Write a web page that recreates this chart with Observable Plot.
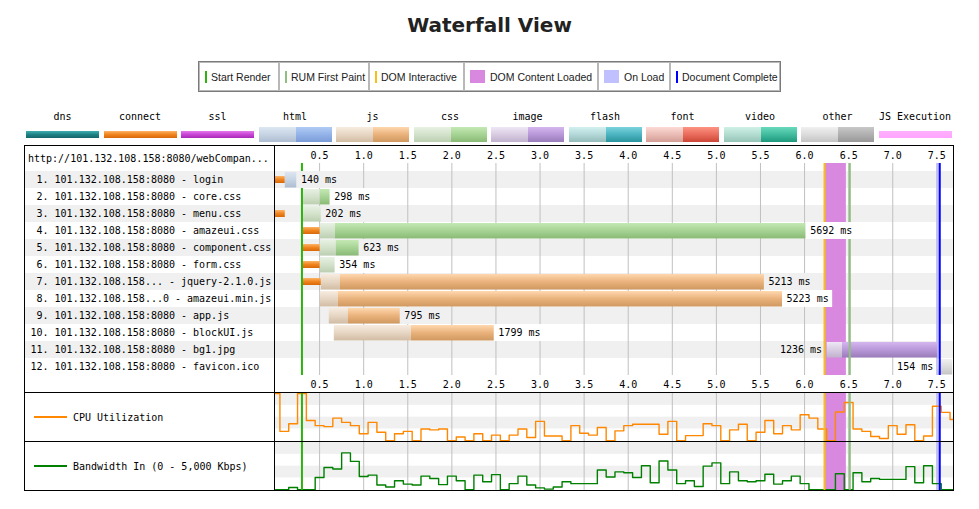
<!DOCTYPE html>
<html>
<head>
<meta charset="utf-8">
<script src="https://cdn.jsdelivr.net/npm/d3@7"></script>
<script src="https://cdn.jsdelivr.net/npm/@observablehq/plot@0.6"></script>
<style>
html,body{margin:0;padding:0;background:#fff;}
body{width:979px;height:509px;position:relative;overflow:hidden;}
#title{position:absolute;left:0;top:13px;width:979px;text-align:center;font:bold 20px "DejaVu Sans",sans-serif;color:#222;line-height:24px;}
#legend1{position:absolute;left:198px;top:61px;height:31px;display:flex;border:1px solid #7a7a7a;box-sizing:border-box;background:#fff;}
.l1cell{flex:0 0 auto;box-sizing:border-box;height:100%;border:1px solid #b8b8b8;display:flex;align-items:center;padding-left:5px;font:10.5px "Liberation Sans",Arial,sans-serif;color:#222;white-space:nowrap;overflow:hidden;}
.mk-line{flex:0 0 auto;display:inline-block;width:2px;height:12px;margin-right:4px;}
.mk-box{flex:0 0 auto;display:inline-block;width:15px;height:13px;margin-right:5px;}
.l2label{position:absolute;top:111px;width:73px;text-align:center;font:10px "DejaVu Sans Mono",monospace;line-height:12px;color:#000;}
.l2bar{position:absolute;box-sizing:border-box;}
#table{position:absolute;left:24px;top:145px;width:928px;border:1px solid #000;background:#fff;}
#wf{height:246px;}
#cpuWrap,#bwWrap{position:relative;height:48px;border-top:1px solid #000;}
#divider{position:absolute;left:249px;top:0;bottom:0;width:1px;background:#000;}
.sideLabel{position:absolute;left:9px;height:12px;display:flex;align-items:center;font:10px "DejaVu Sans Mono",monospace;color:#000;white-space:nowrap;}
.sideLabel i{flex:0 0 auto;display:inline-block;width:33px;height:1.5px;margin-right:6px;}
svg{display:block;}
</style>
</head>
<body>
<div id="title">Waterfall View</div>
<div id="legend1"></div>
<div id="legend2"></div>
<div id="table">
  <div id="wf"></div>
  <div id="cpuWrap"><div class="sideLabel" style="top:18px"><i style="background:#ff8800"></i>CPU Utilization</div></div>
  <div id="bwWrap"><div class="sideLabel" style="top:18px"><i style="background:#008000"></i>Bandwidth In (0 - 5,000 Kbps)</div></div>
  <div id="divider"></div>
</div>
<script>
// ---------------- data ----------------
const pageUrl = "http://101.132.108.158:8080/webCompan...";
const requestUrls = [
  "101.132.108.158:8080 - login",
  "101.132.108.158:8080 - core.css",
  "101.132.108.158:8080 - menu.css",
  "101.132.108.158:8080 - amazeui.css",
  "101.132.108.158:8080 - component.css",
  "101.132.108.158:8080 - form.css",
  "101.132.108.158... - jquery-2.1.0.js",
  "101.132.108.158...0 - amazeui.min.js",
  "101.132.108.158:8080 - app.js",
  "101.132.108.158:8080 - blockUI.js",
  "101.132.108.158:8080 - bg1.jpg",
  "101.132.108.158:8080 - favicon.ico"
];
const requestTypes = ["html","css","css","css","css","css","js","js","js","js","image","other"];
const connectStart = [0, null, 0, 0.315, 0.304, 0.315, 0.304, null, null, null, null, null];
const connectEnd   = [0.111, null, 0.111, 0.508, 0.508, 0.508, 0.52, null, null, null, null, null];
const requestStart = [0.111, 0.304, 0.304, 0.508, 0.508, 0.508, 0.52, 0.508, 0.61, 0.667, 6.256, 7.516];
const firstByte    = [0.244, 0.508, 0.52, 0.678, 0.689, 0.678, 0.735, 0.712, 0.826, 1.54, 6.43, 7.68];
const requestEnd   = [0.244, 0.621, 0.52, 6.018, 0.95, 0.678, 5.545, 5.75, 1.416, 2.482, 7.511, 7.68];
const durationsMs  = [140, 298, 202, 5692, 623, 354, 5213, 5223, 795, 1799, 1236, 154];

const timeTicks = [0.5,1,1.5,2,2.5,3,3.5,4,4.5,5,5.5,6,6.5,7,7.5];
const timeMax = 7.689;

const startRender = 0.30;
const rumFirstPaint = 6.513;
const domInteractive = 6.226;
const domContentLoaded = [6.237, 6.474];
const onLoad = [7.500, 7.528];
const documentComplete = 7.533;

const sampleStep = 0.1;
const cpuPercent = [100,20,36,100,43,32,30,48,39,32, 15,39,18,0,15,20,0,25,23,25,
  0,8,0,15,0,12,0,12,25,7, 41,10,10,0,32,16,12,28,0,21,
  32,35,35,35,14,41,0,11,11,36, 32,0,23,35,0,18,43,15,32,23,
  55,48,25,0,61,81,25,20,9,5, 32,14,34,0,10,73,60,45];
const bandwidthPercent = [0,0,5,0,0,26,47,44,78,60, 28,31,10,6,19,12,10,29,24,11,
  29,19,0,31,17,32,0,13,29,10, 4,1.5,6,17,13,13,13,42,27,38,
  36,26,51,15,61,42,13,19,7,50, 57,13,38,19,17,19,33,12,19,29,
  13,0,0,0,34,0,36,17,24,22, 22,22,49,15,51,13,0,0];

const legendTypes = ["dns","connect","ssl","html","js","css","image","flash","font","video","other","JS Execution"];
const markerLegend = ["Start Render","RUM First Paint","DOM Interactive","DOM Content Loaded","On Load","Document Complete"];

// ---------------- styles ----------------
const C = {
  startRender:"#2ab40c", rum:"#8fc080", domInteractive:"#f8c014", dcl:"#d888df", onLoad:"#c0c0ff", docComplete:"#0000ff",
  grid:"#c0c0c0", rowGray:"#f0f0f0", cpu:"#ff8800", bw:"#008000"
};
const grad = {
  dns:["#40aeb0","#1f8287","#15676b"],
  connect:["#fcb468","#f0841e","#d86808"],
  ssl:["#e478ec","#c846d4","#a82ab6"],
  "html-light":["#dde7f2","#c6d3e3","#aebdd1"], "html-dark":["#b0cbf4","#93b3e8","#7a9bd6"],
  "js-light":["#f7ece0","#e6d6c3","#d2bca4"], "js-dark":["#fed8ae","#eab27c","#cf9960"],
  "css-light":["#e8f1e3","#d3e2cb","#bccfb1"], "css-dark":["#c4e9b4","#a6d394","#8aba76"],
  "image-light":["#eee7f5","#d8cce2","#c1b1cd"], "image-dark":["#d4b6ef","#b898d8","#9a7cba"],
  "flash-light":["#d2f0f0","#b4d8d8","#94baba"], "flash-dark":["#7ad4de","#4cb4c0","#2a949e"],
  "font-light":["#fcdad5","#e9bcb5","#d39d95"], "font-dark":["#fd9383","#ea6c5c","#cc4636"],
  "video-light":["#cff0e6","#b2dccf","#95c4b6"], "video-dark":["#68d9bc","#42bc9e","#1e987c"],
  "other-light":["#f0f0f0","#dcdcdc","#c4c4c4"], "other-dark":["#c8c8c8","#b0b0b0","#989898"],
  jsexec:["#ffb0ff","#ffaaff","#ffa4ff"]
};
const cssGrad = k => `linear-gradient(to bottom, ${grad[k].join(",")})`;

// ---------------- legends ----------------
const markerColors = [C.startRender, C.rum, C.domInteractive, C.dcl, C.onLoad, C.docComplete];
const markerKinds = ["line","line","line","box","box","line"];
const cellWidths = [80, 90, 95, 134, 72, 110];
const l1 = document.getElementById("legend1");
markerLegend.forEach((label, i) => {
  const c = document.createElement("div"); c.className = "l1cell"; c.style.width = cellWidths[i] + "px";
  const m = document.createElement("span"); m.className = markerKinds[i] === "line" ? "mk-line" : "mk-box"; m.style.background = markerColors[i];
  c.appendChild(m); c.appendChild(document.createTextNode(label)); l1.appendChild(c);
});
const l2 = document.getElementById("legend2");
legendTypes.forEach((name, i) => {
  const left = 26 + i * 77.5;
  const lab = document.createElement("div"); lab.className = "l2label"; lab.style.left = left + "px"; lab.textContent = name; l2.appendChild(lab);
  const split = !["dns","connect","ssl","JS Execution"].includes(name);
  if (split) {
    const a = document.createElement("div"); a.className = "l2bar";
    Object.assign(a.style, {left: left + "px", top: "127px", width: "37px", height: "15px", background: cssGrad(name + "-light")});
    const b = document.createElement("div"); b.className = "l2bar";
    Object.assign(b.style, {left: (left + 37) + "px", top: "127px", width: "36px", height: "15px", background: cssGrad(name + "-dark")});
    l2.appendChild(a); l2.appendChild(b);
  } else {
    const a = document.createElement("div"); a.className = "l2bar";
    Object.assign(a.style, {left: left + "px", top: "131px", width: "73px", height: "7px", background: cssGrad(name === "JS Execution" ? "jsexec" : name)});
    l2.appendChild(a);
  }
});

// ---------------- helpers ----------------
function addGradients(svg) {
  const ns = "http://www.w3.org/2000/svg";
  const defs = document.createElementNS(ns, "defs");
  for (const [id, stops] of Object.entries(grad)) {
    const g = document.createElementNS(ns, "linearGradient");
    g.setAttribute("id", "g-" + id);
    g.setAttribute("x1", "0"); g.setAttribute("y1", "0"); g.setAttribute("x2", "0"); g.setAttribute("y2", "1");
    stops.forEach((c, i) => {
      const s = document.createElementNS(ns, "stop");
      s.setAttribute("offset", String(i / (stops.length - 1)));
      s.setAttribute("stop-color", c);
      g.appendChild(s);
    });
    defs.appendChild(g);
  }
  svg.insertBefore(defs, svg.firstChild);
}
function markerBands(o) {
  return [
    Plot.barX([domContentLoaded], {x1: d => d[0], x2: d => d[1], fill: C.dcl, ...o}),
    Plot.barX([onLoad], {x1: d => d[0], x2: d => d[1], fill: C.onLoad, ...o})
  ];
}
function markerLines(o) {
  return [
    Plot.ruleX([startRender], {stroke: C.startRender, strokeWidth: 2, ...o}),
    Plot.ruleX([domInteractive], {stroke: C.domInteractive, strokeWidth: 2, ...o}),
    Plot.ruleX([rumFirstPaint], {stroke: C.rum, strokeWidth: 2, ...o}),
    Plot.ruleX([documentComplete], {stroke: C.docComplete, strokeWidth: 2, ...o})
  ];
}

// ---------------- waterfall ----------------
const W = 928;
const xDomain = [0, timeMax];
const xRange = [250, W];
const pxPerSec = (xRange[1] - xRange[0]) / (xDomain[1] - xDomain[0]);
const charW = 6.02;

const rows = requestUrls.map((url, i) => ({
  i, type: requestTypes[i],
  label: String(i + 1).padStart(2, "\u00a0") + ". " + url,
  cs: connectStart[i], ce: connectEnd[i],
  start: requestStart[i], ttfb: firstByte[i], end: requestEnd[i],
  text: durationsMs[i] + " ms"
}));
rows.forEach(d => {
  d.labelLeft = d.end + (d.text.length * charW + 8) / pxPerSec > timeMax;
  d.bgEnd = d.end + (d.text.length * charW + 8) / pxPerSec;
});
const types = [...new Set(requestTypes)];
const inset = {insetTop: 17, insetBottom: 17};
const barInset = {insetTop: 1, insetBottom: 0.5};

const wf = Plot.plot({
  width: W, height: 246,
  marginLeft: 0, marginRight: 0, marginTop: 0, marginBottom: 0,
  x: {domain: xDomain, range: xRange, axis: null},
  y: {type: "band", domain: rows.map(d => d.label), range: [24.7, 228.7], padding: 0, axis: null},
  style: {fontFamily: "'DejaVu Sans Mono', monospace", fontSize: "10px", color: "#000", background: "white"},
  marks: [
    Plot.cell(rows.filter(d => d.i % 2 === 0), {y: "label", fill: C.rowGray}),
    Plot.ruleX(timeTicks, {stroke: C.grid, ...inset}),
    ...markerBands(inset),
    Plot.barX(rows.filter(d => d.cs !== null), {x1: "cs", x2: "ce", y: "label", fill: "url(#g-connect)", insetTop: 5, insetBottom: 5}),
    ...types.map(t => Plot.barX(rows.filter(d => d.type === t), {x1: "start", x2: "ttfb", y: "label", fill: `url(#g-${t}-light)`, ...barInset})),
    ...types.map(t => Plot.barX(rows.filter(d => d.type === t && d.end > d.ttfb), {x1: "ttfb", x2: "end", y: "label", fill: `url(#g-${t}-dark)`, ...barInset})),
    ...markerLines(inset),
    Plot.barX(rows.filter(d => !d.labelLeft && d.i % 2 === 0), {x1: "end", x2: "bgEnd", y: "label", fill: C.rowGray}),
    Plot.barX(rows.filter(d => !d.labelLeft && d.i % 2 === 1), {x1: "end", x2: "bgEnd", y: "label", fill: "white"}),
    Plot.text(rows.filter(d => !d.labelLeft), {x: "end", y: "label", text: "text", dx: 4, textAnchor: "start"}),
    Plot.text(rows.filter(d => d.labelLeft), {x: "start", y: "label", text: "text", dx: -5, textAnchor: "end"}),
    Plot.text(rows, {y: "label", text: "label", frameAnchor: "left", dx: 5, textAnchor: "start"}),
    Plot.text([pageUrl], {text: d => d, frameAnchor: "top-left", textAnchor: "start", lineAnchor: "middle", dx: 2.5, dy: 12.5}),
    Plot.text(timeTicks, {x: d => d, text: d => d.toFixed(1), frameAnchor: "top", lineAnchor: "middle", dy: 9}),
    Plot.text(timeTicks, {x: d => d, text: d => d.toFixed(1), frameAnchor: "bottom", lineAnchor: "middle", dy: -8})
  ]
});
addGradients(wf);
document.getElementById("wf").appendChild(wf);

// ---------------- CPU & bandwidth ----------------
function series(values) { return values.map((v, k) => ({t: +(k * sampleStep).toFixed(2), v})); }
const stripes = [[75, 100], [25, 50]];
function utilPlot(values, color) {
  return Plot.plot({
    width: W, height: 48,
    marginLeft: 250, marginRight: 0, marginTop: 0, marginBottom: 0,
    x: {domain: xDomain, axis: null},
    y: {domain: [0, 100], range: [47.3, 0], axis: null},
    style: {background: "transparent"},
    marks: [
      Plot.rect(stripes, {y1: d => d[0], y2: d => d[1], fill: C.rowGray}),
      Plot.ruleX(timeTicks, {stroke: C.grid}),
      ...markerBands({}),
      Plot.line(series(values), {x: "t", y: "v", curve: "step", stroke: color, strokeWidth: 1.4, clip: true}),
      ...markerLines({})
    ]
  });
}
document.getElementById("cpuWrap").appendChild(utilPlot(cpuPercent, C.cpu));
document.getElementById("bwWrap").appendChild(utilPlot(bandwidthPercent, C.bw));
</script>
</body>
</html>
